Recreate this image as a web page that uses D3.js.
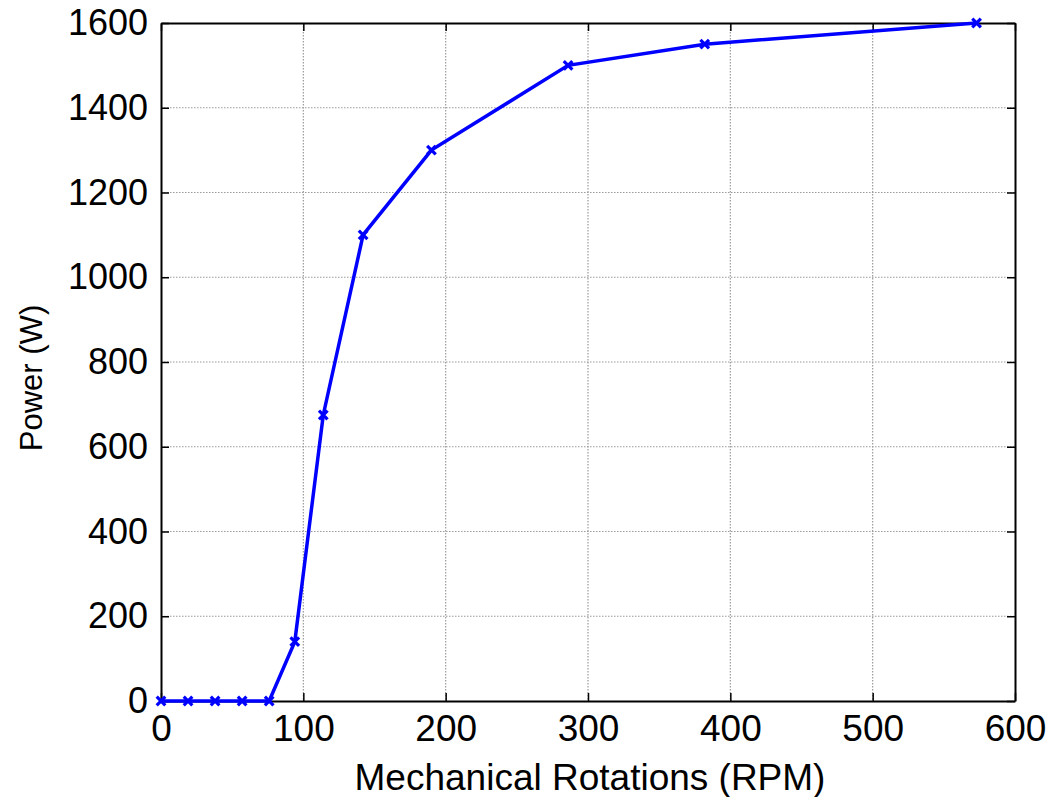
<!DOCTYPE html>
<html>
<head>
<meta charset="utf-8">
<script src="https://cdn.jsdelivr.net/npm/d3@7"></script>
<style>
  body { margin: 0; background: #fff; }
  text { font-family: "Liberation Sans", Arial, sans-serif; fill: #000; }
</style>
</head>
<body>
<svg width="1054" height="797"></svg>
<script>
// speed (RPM) vs output power (W)
const rpm   = [0, 19, 38, 57, 76, 94, 114, 142, 190, 286, 382, 573];
const power = [0, 0, 0, 0, 0, 140, 675, 1100, 1300, 1500, 1550, 1600];
const xTicks = [0, 100, 200, 300, 400, 500, 600];
const yTicks = [0, 200, 400, 600, 800, 1000, 1200, 1400, 1600];

const svg = d3.select("svg");
const plotL = 161, plotR = 1015, plotT = 23, plotB = 701;

const x = d3.scaleLinear().domain([0, 600]).range([plotL, plotR]);
const y = d3.scaleLinear().domain([0, 1600]).range([plotB, plotT]);

// dotted grid
const grid = svg.append("g")
    .attr("stroke", "#9a9a9a")
    .attr("stroke-width", 1.2)
    .attr("stroke-dasharray", "1.5,1.5");
grid.selectAll("line.gx")
    .data(xTicks.slice(1, -1)).enter()
    .append("line")
    .attr("x1", d => x(d)).attr("x2", d => x(d))
    .attr("y1", plotT).attr("y2", plotB);
grid.selectAll("line.gy")
    .data(yTicks.slice(1, -1)).enter()
    .append("line")
    .attr("y1", d => y(d)).attr("y2", d => y(d))
    .attr("x1", plotL).attr("x2", plotR);

// axes with inward ticks on all four sides
const tickLen = 8;
const fmt = d3.format("d");
svg.append("g").attr("transform", `translate(0,${plotB})`)
    .call(d3.axisBottom(x).tickValues(xTicks).tickFormat(fmt).tickSizeInner(-tickLen).tickSizeOuter(0).tickPadding(14))
    .call(g => g.selectAll("text").attr("font-size", 37));
svg.append("g").attr("transform", `translate(0,${plotT})`)
    .call(d3.axisTop(x).tickValues(xTicks).tickSizeInner(-tickLen).tickSizeOuter(0).tickFormat(""));
svg.append("g").attr("transform", `translate(${plotL},0)`)
    .call(d3.axisLeft(y).tickValues(yTicks).tickFormat(fmt).tickSizeInner(-tickLen).tickSizeOuter(0).tickPadding(13))
    .call(g => g.selectAll("text").attr("font-size", 36));
svg.append("g").attr("transform", `translate(${plotR},0)`)
    .call(d3.axisRight(y).tickValues(yTicks).tickSizeInner(-tickLen).tickSizeOuter(0).tickFormat(""));

svg.selectAll(".domain").attr("stroke", "#000").attr("stroke-width", 2);
svg.selectAll(".tick line").attr("stroke", "#000").attr("stroke-width", 1.5);
svg.selectAll(".tick text").attr("font-family", "Liberation Sans, Arial, sans-serif");

// curve
const pts = rpm.map((r, i) => [r, power[i]]);
svg.append("path")
    .datum(pts)
    .attr("fill", "none")
    .attr("stroke", "#0000ff")
    .attr("stroke-width", 3.5)
    .attr("d", d3.line().x(d => x(d[0])).y(d => y(d[1])));

svg.selectAll("path.mk")
    .data(pts).enter()
    .append("path")
    .attr("class", "mk")
    .attr("transform", d => `translate(${x(d[0])},${y(d[1])})`)
    .attr("d", d3.symbol(d3.symbolX, 50))
    .attr("fill", "none")
    .attr("stroke", "#0000ff")
    .attr("stroke-width", 3.2);

// axis titles
svg.append("text")
    .attr("x", (plotL + plotR) / 2 + 2).attr("y", 790)
    .attr("text-anchor", "middle")
    .attr("font-size", 37)
    .text("Mechanical Rotations (RPM)");
svg.append("text")
    .attr("transform", "translate(42,378) rotate(-90)")
    .attr("text-anchor", "middle")
    .attr("font-size", 31)
    .text("Power (W)");
</script>
</body>
</html>
